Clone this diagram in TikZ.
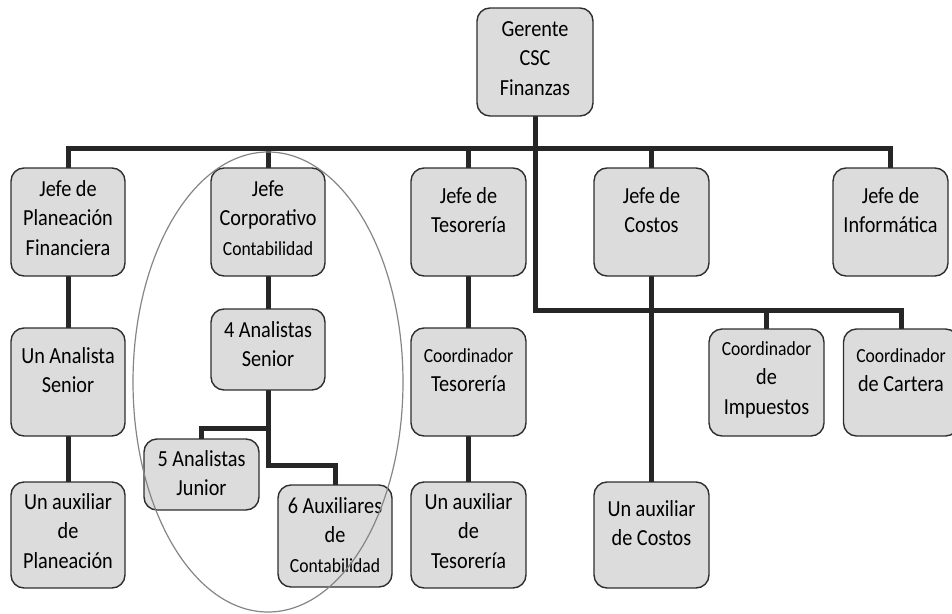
\documentclass[tikz,border=0pt]{standalone}
\usepackage{fontspec}
\setmainfont{Carlito}[FakeStretch=0.88]
\usetikzlibrary{backgrounds}
\definecolor{boxfill}{HTML}{DCDCDC}
\definecolor{boxline}{HTML}{2E2E2E}
\definecolor{connline}{HTML}{262626}
\definecolor{ringline}{HTML}{858585}
\newcommand\bt[4]{\parbox[c][#2pt][t]{#1pt}{\centering\rule{0pt}{#3pt}#4\par}}
\newcommand\sm{\fontsize{20}{29.5}\selectfont}
\tikzset{
  orgbox/.style={draw=boxline, line width=1.4pt, fill=boxfill, rounded corners=13pt,
    inner sep=0pt, outer sep=0pt, font=\fontsize{23}{29.5}\selectfont},
  conn/.style={draw=connline, line width=5pt, line join=miter, line cap=rect},
  ring/.style={draw=ringline, line width=1.2pt}
}
\begin{document}
\begin{tikzpicture}[x=1pt,y=-1pt]
\useasboundingbox (0,0) rectangle (952,613);
% coordinates of bars
\coordinate (bar1) at (535,148);
\coordinate (bar2) at (535,310);
\coordinate (k1) at (268,428);
\coordinate (k2) at (268,465);
% boxes
\node[orgbox] (ger) at (535,62)    {\bt{116}{108}{28}{Gerente\\CSC\\Finanzas}};
\node[orgbox] (pf)  at (68,222)    {\bt{114}{108}{28}{Jefe de\\Planeación\\Financiera}};
\node[orgbox] (jc)  at (268,222)   {\bt{114}{108}{28}{Jefe\\Corporativo\\{\sm Contabilidad}}};
\node[orgbox] (jt)  at (468.5,222) {\bt{115}{108}{35}{Jefe de\\Tesorería}};
\node[orgbox] (jco) at (651.5,222) {\bt{115}{108}{35}{Jefe de\\Costos}};
\node[orgbox] (ji)  at (890.5,222) {\bt{115}{108}{35}{Jefe de\\Informática}};
\node[orgbox] (uas) at (68,382)    {\bt{114}{108}{35}{Un Analista\\Senior}};
\node[orgbox] (as4) at (268,349.5) {\bt{114}{81}{28}{4 Analistas\\Senior}};
\node[orgbox] (ct)  at (468.5,382) {\bt{115}{108}{34}{{\sm Coordinador}\\Tesorería}};
\node[orgbox] (ci)  at (766.5,382.5) {\bt{115}{107}{26}{{\sm Coordinador}\\de\\Impuestos}};
\node[orgbox] (cc)  at (901,382.5) {\bt{115}{107}{33}{{\sm Coordinador}\\de Cartera}};
\node[orgbox] (uap) at (68,535)    {\bt{114}{106}{27}{Un auxiliar\\de\\Planeación}};
\node[orgbox] (uat) at (468.5,535) {\bt{115}{106}{27}{Un auxiliar\\de\\Tesorería}};
\node[orgbox] (uac) at (651.5,535) {\bt{115}{106}{34}{Un auxiliar\\de Costos}};
\node[orgbox] (aj5) at (201.5,474.5) {\bt{115}{71}{27}{5 Analistas\\Junior}};
\node[orgbox] (ax6) at (335,536)   {\bt{114}{102}{28}{6 Auxiliares\\de\\{\sm Contabilidad}}};
% connectors
\begin{pgfonlayer}{background}
  \draw[conn] (pf.north) -- (pf.north |- bar1) -| (ji.north);
  \draw[conn] (jc.north) -- (jc.north |- bar1);
  \draw[conn] (jt.north) -- (jt.north |- bar1);
  \draw[conn] (jco.north) -- (jco.north |- bar1);
  \draw[conn] (ger.south) -- (bar2) -| (cc.north);
  \draw[conn] (ci.north) -- (ci.north |- bar2);
  \draw[conn] (pf.south) -- (uas.north);
  \draw[conn] (uas.south) -- (uap.north);
  \draw[conn] (jc.south) -- (as4.north);
  \draw[conn] (jt.south) -- (ct.north);
  \draw[conn] (ct.south) -- (uat.north);
  \draw[conn] (jco.south) -- (uac.north);
  \draw[conn] (as4.south) -- (k2) -| (ax6.north);
  \draw[conn] (k1) -| (aj5.north);
\end{pgfonlayer}
% grouping ring
\draw[ring] (268,382) ellipse [x radius=135pt, y radius=230pt];
\end{tikzpicture}
\end{document}
